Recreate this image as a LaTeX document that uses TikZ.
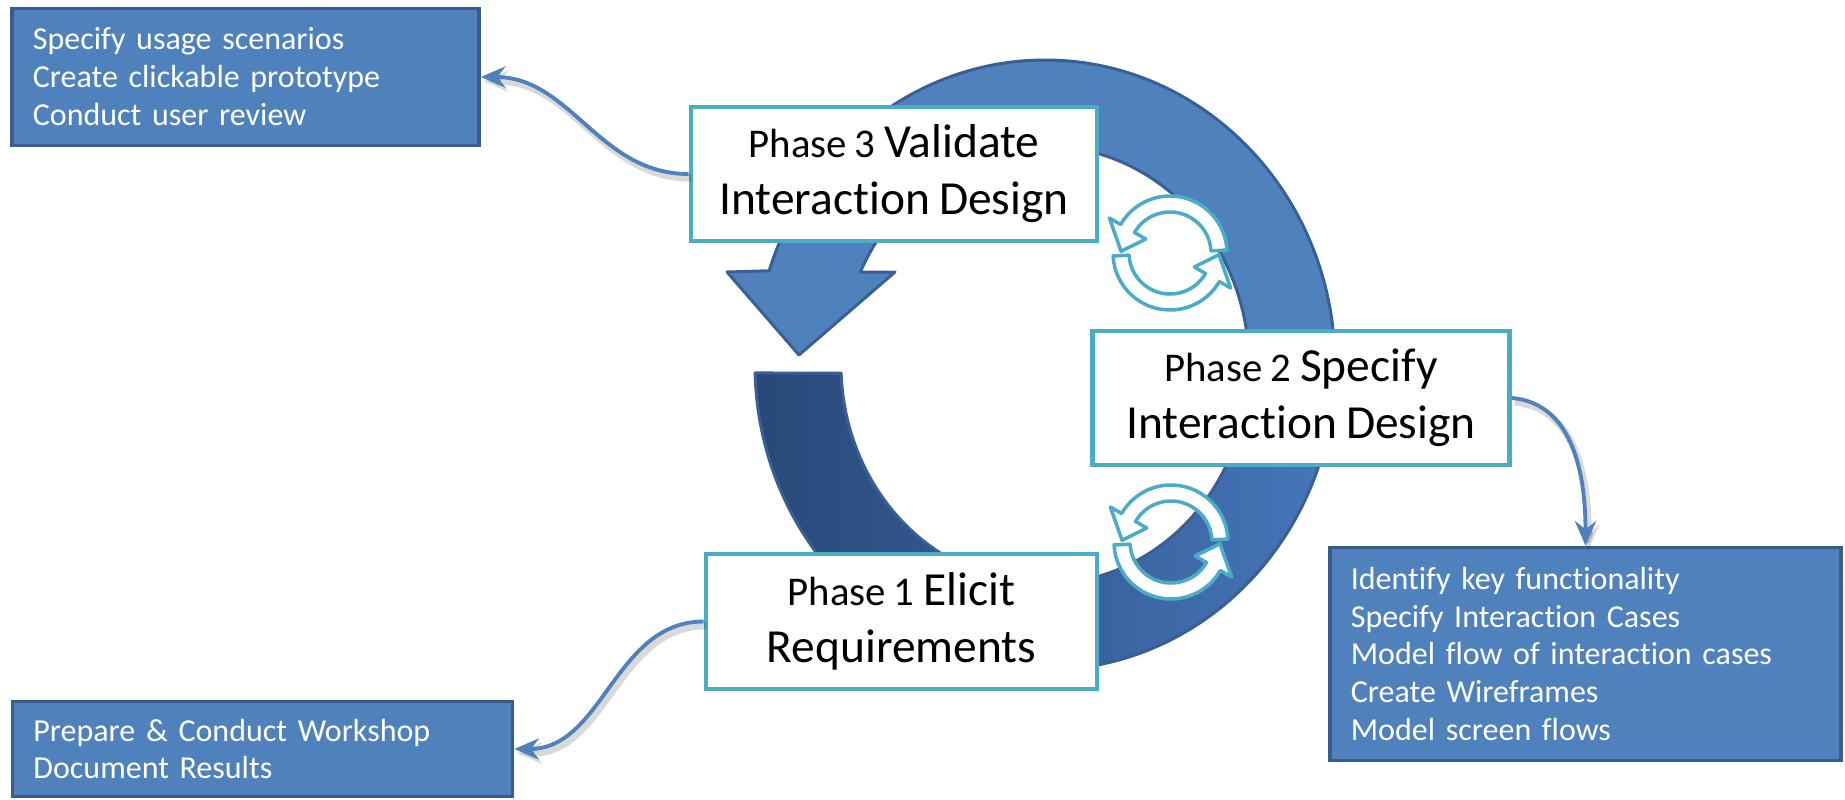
\documentclass[tikz,border=0pt]{standalone}
\usepackage{fontspec}
\setmainfont{Carlito}[Ligatures=NoCommon, WordSpace=0.85]
\usepackage{tikz}
\usetikzlibrary{arrows.meta,positioning}
\definecolor{taskfill}{RGB}{79,129,189}
\definecolor{taskedge}{RGB}{56,93,138}
\definecolor{phaseedge}{RGB}{75,172,198}
\definecolor{ringtop}{RGB}{79,129,189}
\definecolor{ringdark}{RGB}{40,72,120}
\definecolor{ringmid}{RGB}{70,118,186}
\definecolor{ringedge}{RGB}{58,95,148}
\definecolor{linkblue}{RGB}{79,129,189}
\tikzstyle{phase} = [rectangle, draw=phaseedge, fill=white, line width=1.3pt, align=center, inner sep=0pt, font=\fontsize{13.5}{16.2}\selectfont]
\tikzstyle{task} = [rectangle, draw=taskedge, fill=taskfill, line width=0.95pt, align=left, text=white, inner xsep=0.21cm, inner ysep=0pt, font=\fontsize{9.1}{10.8}\selectfont]
\tikzstyle{link} = [line width=1.1pt, -{Stealth[length=7pt,width=6pt]}, color=linkblue, preaction={draw=black, opacity=0.15, line width=2pt, transform canvas={shift={(0.8pt,-1.2pt)}}}]
\tikzstyle{cyclearrow} = [draw=phaseedge, fill=white, line width=1pt, line join=round]
\newcommand{\phasenum}[1]{{\fontsize{11.6}{16.2}\selectfont #1}}
\newcommand{\cycleicon}[1]{%
  \begin{scope}[shift={#1}]
    \filldraw[cyclearrow] (3:57) arc[start angle=3, end angle=150, radius=57] -- (150:70) -- (178:49) -- (150:28) -- (150:41) arc[start angle=150, end angle=3, radius=41] -- cycle;
    \filldraw[cyclearrow] (183:57) arc[start angle=183, end angle=330, radius=57] -- (330:70) -- (358:49) -- (330:28) -- (330:41) arc[start angle=330, end angle=183, radius=41] -- cycle;
  \end{scope}}

\begin{document}
\begin{tikzpicture}[x=0.01cm, y=0.01cm]
    \useasboundingbox (0,0) rectangle (1845,-800);

    % Ring arrow
    \begin{scope}[shift={(1045,-365)}]
        \fill[ringtop] (181.5:290 and 305) arc[start angle=181.5, end angle=522, x radius=290, y radius=305]
            -- (-318,93) -- (-246,10) -- (-150,93)
            -- (514.9:204 and 219) arc[start angle=514.9, end angle=182.1, x radius=204, y radius=219] -- cycle;
        \shade[left color=ringdark, right color=ringmid] (181.5:290 and 305) arc[start angle=181.5, end angle=360, x radius=290, y radius=305]
            -- (204,0) arc[start angle=360, end angle=182.1, x radius=204, y radius=219] -- cycle;
        \draw[ringedge, line width=0.85pt, line join=round] (181.5:290 and 305) arc[start angle=181.5, end angle=522, x radius=290, y radius=305]
            -- (-318,93) -- (-246,10) -- (-150,93)
            -- (514.9:204 and 219) arc[start angle=514.9, end angle=182.1, x radius=204, y radius=219] -- cycle;
    \end{scope}

    % Cycle icons
    \cycleicon{(1170,-253)}
    \cycleicon{(1171,-542)}

    % Phases
    \node[phase, minimum width=4.06cm, minimum height=1.34cm] (validate) at (894,-174) {\phasenum{Phase 3} Validate\\Interaction Design};
    \node[phase, minimum width=4.17cm, minimum height=1.34cm] (specify) at (1301,-398) {\phasenum{Phase 2} Specify\\Interaction Design};
    \node[phase, minimum width=3.91cm, minimum height=1.35cm] (elicit) at (901.5,-621.5) {\phasenum{Phase 1} Elicit\\Requirements};

    % Tasks
    \node[task, text width=4.25cm, minimum height=1.37cm] (validatetasks) at (245.5,-77) {Specify usage scenarios\\Create clickable prototype\\Conduct user review};
    \node[task, text width=4.58cm, minimum height=0.95cm] (elicittasks) at (262.5,-749) {Prepare \& Conduct Workshop\\Document Results};
    \node[task, text width=4.69cm, minimum height=2.13cm] (specifytasks) at (1585.5,-654) {Identify key functionality\\Specify Interaction Cases\\Model flow of interaction cases\\Create Wireframes\\Model screen flows};

    % Links
    \draw[link] (validate.west) to[out=180, in=0] (validatetasks.east);
    \draw[link] (specify.east) to[out=-5, in=90] (specifytasks.north);
    \draw[link] (elicit.west) to[out=180, in=0] (elicittasks.east);
\end{tikzpicture}
\end{document}
